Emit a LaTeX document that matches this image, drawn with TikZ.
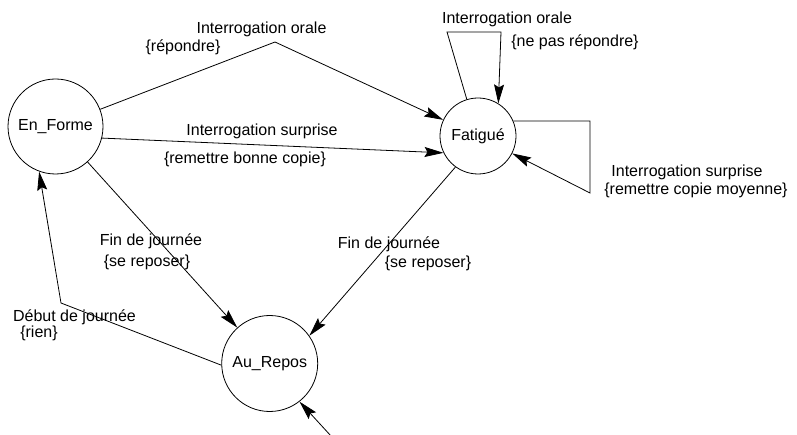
\documentclass[tikz,border=0pt]{standalone}
\usepackage{fontspec}
\setmainfont{Liberation Sans}
\usetikzlibrary{arrows.meta}

\begin{document}
\begin{tikzpicture}[x=1pt,y=-1pt,line width=0.8pt,>={Stealth[length=19pt,width=10pt,inset=3pt]},
    every node/.style={font=\fontsize{16}{18}\selectfont},
    state/.style={circle,draw,inner sep=0pt},
    lbl/.style={anchor=base,inner sep=0pt}]

    \useasboundingbox (0,0) rectangle (797,435);

    % etats
    \draw (55.5,126.5) node[state,minimum size=95pt] (EnForme) {En\_Forme};
    \draw (478,136) node[state,minimum size=76pt] (Fatigue) {Fatigué};
    \draw (269.7,363.5) node[state,minimum size=96pt] (AuRepos) {Au\_Repos};

    % points de passage
    \coordinate (oraleTop) at (275,42);
    \coordinate (boucleA) at (447,32);
    \coordinate (boucleB) at (501,32);
    \coordinate (boucleC) at (590,121);
    \coordinate (boucleD) at (590,193);
    \coordinate (debutCoin) at (61,303);
    \coordinate (init) at (331,436);

    % transitions
    \draw[->] (EnForme) -- (oraleTop) -- (Fatigue);
    \draw[->] (EnForme.-14) -- (Fatigue.206);
    \draw[->] (Fatigue.107) -- (boucleA) -- (boucleB) -- (Fatigue.58);
    \draw[->] (Fatigue.23) -- (boucleC) -- (boucleD) -- (Fatigue.-27);
    \draw[->] (EnForme) -- (AuRepos);
    \draw[->] (Fatigue.234) -- (AuRepos.35);
    \draw[->] (AuRepos.182) -- (debutCoin) -- (EnForme.250);
    \draw[->] (init) -- (AuRepos.-52);

    % etiquettes
    \draw (261.5,33.3) node[lbl] (oraleEv) {Interrogation orale};
    \draw (183,52) node[lbl] (oraleAc) {\{répondre\}};
    \draw (262,135.7) node[lbl] (surpEv) {Interrogation surprise};
    \draw (245,163.5) node[lbl] (surpAc) {\{remettre bonne copie\}};
    \draw (507,23.3) node[lbl] (boucleOraleEv) {Interrogation orale};
    \draw (575,47) node[lbl] (boucleOraleAc) {\{ne pas répondre\}};
    \draw (687,176.5) node[lbl] (boucleSurpEv) {Interrogation surprise};
    \draw (696,195) node[lbl] (boucleSurpAc) {\{remettre copie moyenne\}};
    \draw (151,245.7) node[lbl] (finEv) {Fin de journée};
    \draw (147,267) node[lbl] (finAc) {\{se reposer\}};
    \draw (389,248.3) node[lbl] (finFatEv) {Fin de journée};
    \draw (428,268) node[lbl] (finFatAc) {\{se reposer\}};
    \draw (74.5,321) node[lbl] (debutEv) {Début de journée};
    \draw (39,337) node[lbl] (debutAc) {\{rien\}};

\end{tikzpicture}
\end{document}
